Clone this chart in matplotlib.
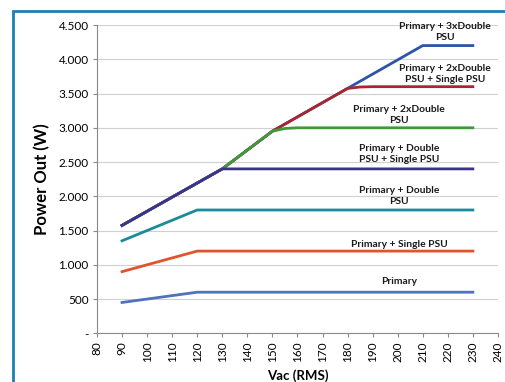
import matplotlib.pyplot as plt
from matplotlib.patches import Rectangle

# dati (Vac, potenza in W)
v_primary = [90, 120, 230]
p_primary = [450, 600, 600]
v_single = [90, 120, 230]
p_single = [900, 1200, 1200]
v_double = [90, 120, 230]
p_double = [1350, 1800, 1800]
v_double_single = [90, 130, 230]
p_double_single = [1575, 2400, 2400]
v_2double = [90, 130, 150, 155, 160, 230]
p_2double = [1575, 2400, 2950, 2990, 3000, 3000]
v_2double_single = [90, 130, 150, 180, 185, 190, 230]
p_2double_single = [1575, 2400, 2950, 3575, 3595, 3600, 3600]
v_3double = [90, 130, 150, 180, 210, 230]
p_3double = [1575, 2400, 2950, 3575, 4200, 4200]

labels = ["Primary + 3xDouble\nPSU", "Primary + 2xDouble\nPSU + Single PSU",
          "Primary + 2xDouble\nPSU", "Primary + Double\nPSU + Single PSU",
          "Primary + Double\nPSU", "Primary + Single PSU", "Primary"]
label_x = [219, 219, 200.5, 200.5, 200.5, 200.5, 200.5]
label_y = [4400, 3790, 3190, 2620, 2010, 1300, 750]

xticks = list(range(80, 250, 10))
yticks = list(range(0, 5000, 500))
ytick_labels = ["-"] + [f"{t:,}".replace(",", ".") for t in yticks[1:]]

plt.rcParams['font.family'] = ['Lato', 'DejaVu Sans']

fig = plt.figure(figsize=(5.05, 3.82), dpi=100)
ax = fig.add_axes([0.192, 0.1275, 0.794, 0.807])

# ordine di disegno: le serie più alte sotto
ax.plot(v_3double, p_3double, color='#2E54A6', lw=2)
ax.plot(v_2double_single, p_2double_single, color='#A9262F', lw=2)
ax.plot(v_2double, p_2double, color='#3F9A3C', lw=2)
ax.plot(v_double_single, p_double_single, color='#3A3390', lw=2)
ax.plot(v_double, p_double, color='#1D8A99', lw=2)
ax.plot(v_single, p_single, color='#E2532A', lw=2)
ax.plot(v_primary, p_primary, color='#4E72BE', lw=2)

for t, x, y in zip(labels, label_x, label_y):
    ax.text(x, y, t, ha='center', va='center', fontsize=7.4, fontweight='bold',
            color='#1a1a1a', linespacing=1.3)

ax.set_xlim(80, 240)
ax.set_ylim(0, 4500)
ax.set_xticks(xticks)
ax.set_xticklabels([str(t) for t in xticks], rotation=90, fontsize=8.5)
ax.set_yticks(yticks)
ax.set_yticklabels(ytick_labels, fontsize=8.5)
ax.grid(axis='y', color='#d0d0d0', lw=0.8)
ax.set_axisbelow(True)
for s in ['top', 'right']:
    ax.spines[s].set_visible(False)
for s in ['left', 'bottom']:
    ax.spines[s].set_color('#8a8a8a')
ax.tick_params(axis='both', direction='out', color='#8a8a8a', length=3, pad=3)

ax.set_ylabel("Power Out (W)", fontsize=12, fontweight='bold', labelpad=6)
ax.set_xlabel("Vac (RMS)", fontsize=9.5, fontweight='bold', labelpad=5)

# cornice blu
fig.patches.append(Rectangle((13 / 505, -0.2), 1.2, 1.2 - 11 / 382,
                             transform=fig.transFigure, fill=False,
                             edgecolor='#1B80B5', lw=2))

fig.savefig("out.png", dpi=100)
